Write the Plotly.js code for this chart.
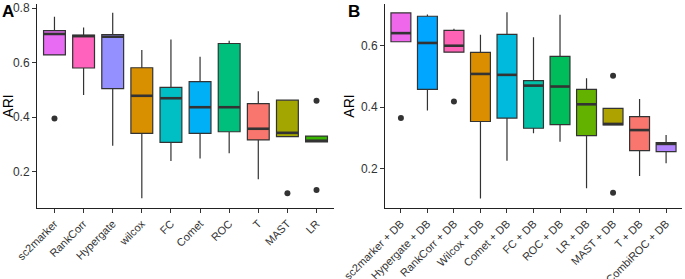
<!DOCTYPE html>
<html>
<head>
<meta charset="utf-8">
<script src="https://cdn.plot.ly/plotly-3.0.1.min.js"></script>
<style>html,body{margin:0;padding:0;background:#fff;}#chart{width:685px;height:279px;}</style>
</head>
<body>
<div id="chart"></div>
<script>
// Panel A
const catsA = ["sc2marker","RankCorr","Hypergate","wilcox","FC","Comet","ROC","T","MAST","LR"];
const colorsA = ["#E76BF3","#FF62BC","#9590FF","#D89000","#00BFC4","#00B0F6","#00BF7D","#F8766D","#A3A500","#39B600"];
const lowA = [0.628,0.481,0.295,0.102,0.239,0.248,0.267,0.172,0.328,0.309];
const q1A  = [0.628,0.580,0.504,0.340,0.307,0.340,0.346,0.316,0.328,0.309];
const medA = [0.705,0.697,0.695,0.478,0.469,0.436,0.436,0.357,0.342,0.313];
const q3A  = [0.717,0.701,0.703,0.581,0.509,0.530,0.670,0.449,0.462,0.330];
const upA  = [0.768,0.729,0.783,0.646,0.685,0.621,0.680,0.495,0.462,0.330];
const outCatA = ["sc2marker","MAST","LR","LR"];
const outValA = [0.395,0.120,0.460,0.132];

// Panel B
const catsB = ["sc2marker + DB","Hypergate + DB","RankCorr + DB","Wilcox + DB","Comet + DB","FC + DB","ROC + DB","LR + DB","MAST + DB","T + DB","CombiROC + DB"];
const colorsB = ["#EF67EB","#00A6FF","#FF63B6","#DB8E00","#00BADE","#00C1A7","#00BD5C","#64B200","#AEA200","#F8766D","#B385FF"];
const lowB = [0.613,0.389,0.579,0.102,0.225,0.315,0.287,0.135,0.342,0.175,0.217];
const q1B  = [0.613,0.458,0.579,0.353,0.364,0.331,0.343,0.307,0.342,0.258,0.255];
const medB = [0.641,0.609,0.600,0.508,0.505,0.470,0.467,0.409,0.345,0.325,0.280];
const q3B  = [0.707,0.696,0.650,0.578,0.637,0.486,0.565,0.458,0.396,0.369,0.284];
const upB  = [0.707,0.702,0.655,0.636,0.709,0.628,0.701,0.494,0.396,0.426,0.309];
const outCatB = ["sc2marker + DB","RankCorr + DB","MAST + DB","MAST + DB"];
const outValB = [0.364,0.418,0.502,0.121];

const BOXW = 0.75;
const traces = [];
const shapes = [];
function addPanel(cats, colors, low, q1, med, q3, up, outCat, outVal, xa, ya) {
  cats.forEach((c, i) => {
    traces.push({
      type: "box", x: [c], q1: [q1[i]], median: [med[i]], q3: [q3[i]],
      lowerfence: [low[i]], upperfence: [up[i]],
      xaxis: xa, yaxis: ya, width: BOXW, whiskerwidth: 0,
      fillcolor: colors[i], line: {color: "#333333", width: 1.2},
      boxpoints: false, hoverinfo: "skip", showlegend: false
    });
    shapes.push({
      type: "line", xref: xa, yref: ya,
      x0: i - BOXW / 2, x1: i + BOXW / 2, y0: med[i], y1: med[i],
      line: {color: "#333333", width: 2.6}
    });
  });
  traces.push({
    type: "scatter", mode: "markers", x: outCat, y: outVal,
    xaxis: xa, yaxis: ya, marker: {color: "#333333", size: 6},
    hoverinfo: "skip", showlegend: false
  });
}
addPanel(catsA, colorsA, lowA, q1A, medA, q3A, upA, outCatA, outValA, "x", "y");
addPanel(catsB, colorsB, lowB, q1B, medB, q3B, upB, outCatB, outValB, "x2", "y2");

const fontFam = "Liberation Sans, Arial, sans-serif";
const xBase = {
  type: "category", showgrid: false, zeroline: false, showline: true,
  linecolor: "#222", linewidth: 1, ticks: "outside", ticklen: 4, tickcolor: "#333",
  tickangle: -45, tickfont: {family: fontFam, size: 11, color: "#333"}, automargin: false
};
const yBase = {
  showgrid: false, zeroline: false, showline: true, linecolor: "#222", linewidth: 1,
  ticks: "outside", ticklen: 4, tickcolor: "#333",
  tickfont: {family: fontFam, size: 12, color: "#333"},
  title: {text: "ARI", font: {family: fontFam, size: 14, color: "#000"}, standoff: 3},
  automargin: false
};
const ydom = [71 / 279, 275 / 279];
const layout = {
  width: 685, height: 279,
  margin: {l: 0, r: 0, t: 0, b: 0},
  paper_bgcolor: "#fff", plot_bgcolor: "#fff",
  boxmode: "overlay", showlegend: false,
  font: {family: fontFam},
  xaxis: Object.assign({}, xBase, {domain: [37 / 685, 334 / 685], range: [-0.6, 9.6],
    categoryorder: "array", categoryarray: catsA, anchor: "y"}),
  yaxis: Object.assign({}, yBase, {domain: ydom, range: [0.066, 0.815],
    tickvals: [0.2, 0.4, 0.6, 0.8], anchor: "x"}),
  xaxis2: Object.assign({}, xBase, {domain: [385 / 685, 682 / 685], range: [-0.6, 10.6],
    categoryorder: "array", categoryarray: catsB, anchor: "y2"}),
  yaxis2: Object.assign({}, yBase, {domain: ydom, range: [0.071, 0.736],
    tickvals: [0.2, 0.4, 0.6], anchor: "x2"}),
  shapes: shapes,
  annotations: [
    {text: "<b>A</b>", xref: "paper", yref: "paper", x: 0, y: 1, xanchor: "left", yanchor: "top",
     showarrow: false, font: {family: fontFam, size: 17, color: "#000"}, yshift: 0},
    {text: "<b>B</b>", xref: "paper", yref: "paper", x: 346 / 685, y: 1, xanchor: "left", yanchor: "top",
     showarrow: false, font: {family: fontFam, size: 17, color: "#000"}, yshift: 0}
  ]
};
Plotly.newPlot("chart", traces, layout, {staticPlot: true, displayModeBar: false});
</script>
</body>
</html>
